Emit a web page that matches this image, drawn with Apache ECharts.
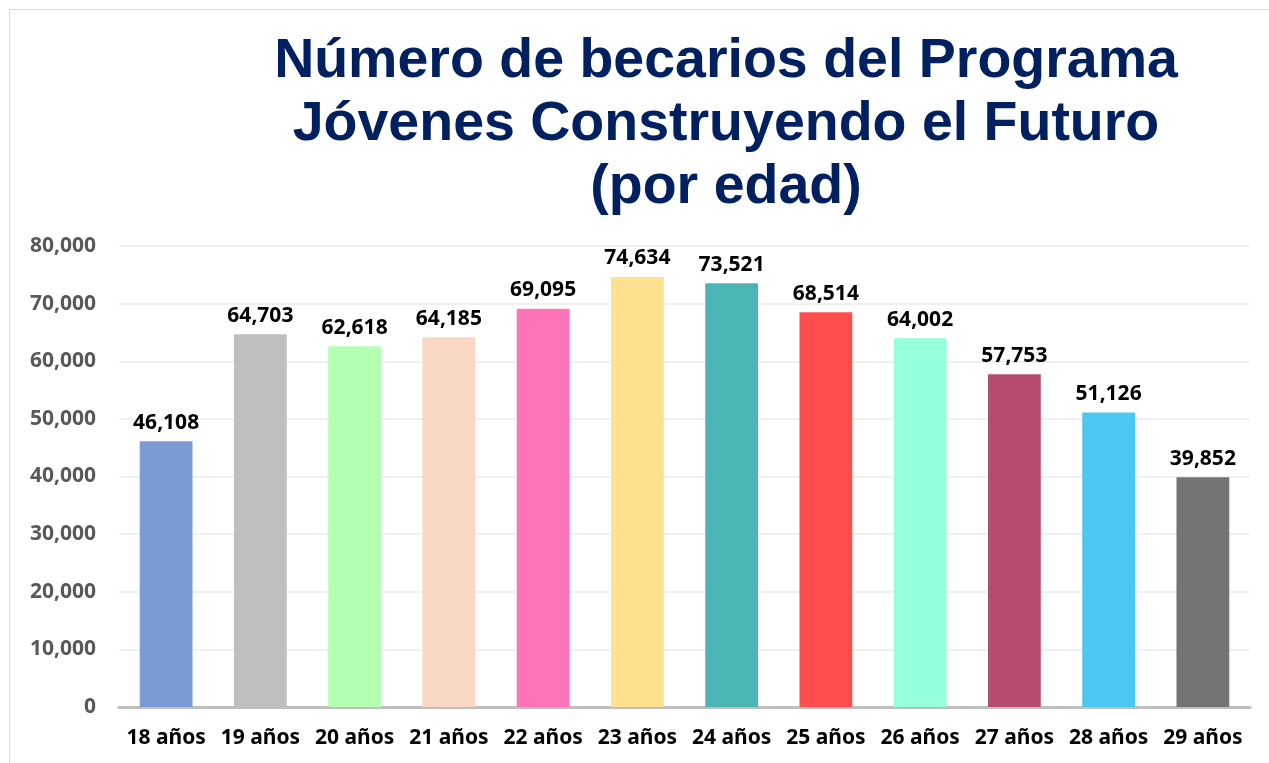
<!DOCTYPE html>
<html>
<head>
<meta charset="utf-8">
<script src="https://cdn.jsdelivr.net/npm/echarts@6/dist/echarts.min.js"></script>
<style>
  html, body { margin: 0; padding: 0; background: #fff; }
  #chart { width: 1269px; height: 763px; }
</style>
</head>
<body>
<div id="chart"></div>
<script>
const categories = ['18 años', '19 años', '20 años', '21 años', '22 años', '23 años',
  '24 años', '25 años', '26 años', '27 años', '28 años', '29 años'];
const becarios = [46108, 64703, 62618, 64185, 69095, 74634, 73521, 68514, 64002, 57753, 51126, 39852];
const barColors = ['#7b9bd5', '#bfbfbf', '#b4ffb4', '#f8d7c3', '#ff73b9', '#ffe08f',
  '#4bb5b5', '#ff4d4d', '#96ffdc', '#b54c6e', '#4dc7f2', '#767374'];
const titleText = 'Número de becarios del Programa\nJóvenes Construyendo el Futuro\n(por edad)';

const chart = echarts.init(document.getElementById('chart'));

const fmt = v => Number(v).toLocaleString('en-US');

chart.setOption({
  animation: false,
  title: {
    text: titleText,
    left: 721,
    top: 25,
    textAlign: 'center',
    textStyle: {
      fontFamily: 'Liberation Sans',
      fontWeight: 'bold',
      fontSize: 55.5,
      lineHeight: 63,
      color: '#002060'
    }
  },
  graphic: [{
    type: 'rect',
    shape: { x: 9.5, y: 9.5, width: 1300, height: 800 },
    style: { fill: 'none', stroke: '#d9d9d9', lineWidth: 1 },
    silent: true
  }],
  grid: {
    left: 119,
    right: 19,
    top: 246,
    bottom: 56
  },
  xAxis: {
    type: 'category',
    data: categories,
    axisTick: { show: false },
    axisLine: { lineStyle: { color: '#bfbfbf', width: 3 } },
    axisLabel: {
      interval: 0,
      margin: 21,
      fontFamily: 'Noto Sans',
      fontWeight: 'bold',
      fontSize: 21,
      color: '#000'
    }
  },
  yAxis: {
    type: 'value',
    min: 0,
    max: 80000,
    interval: 10000,
    axisLine: { show: false },
    axisTick: { show: false },
    splitLine: { lineStyle: { color: '#ebebeb', width: 1.5 } },
    axisLabel: {
      margin: 23,
      fontFamily: 'Noto Sans',
      fontWeight: 'bold',
      fontSize: 21,
      color: '#595959',
      formatter: v => fmt(v)
    }
  },
  series: [{
    type: 'bar',
    barWidth: '56%',
    data: becarios.map((v, i) => ({ value: v, itemStyle: { color: barColors[i] } })),
    label: {
      show: true,
      position: 'top',
      distance: 8,
      fontFamily: 'Noto Sans',
      fontWeight: 'bold',
      fontSize: 21,
      color: '#000',
      formatter: p => fmt(p.value)
    }
  }]
});
</script>
</body>
</html>
